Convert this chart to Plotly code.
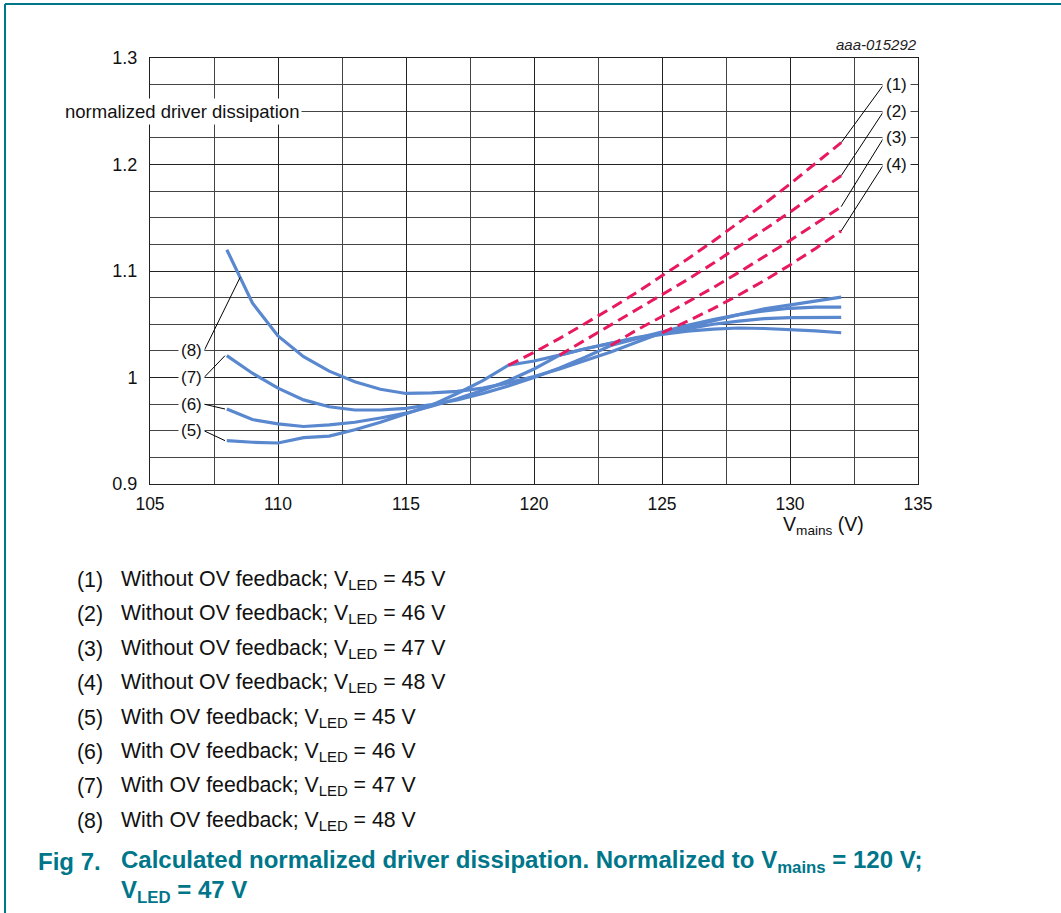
import plotly.graph_objects as go
import numpy as np

# ---------------- data ----------------
v_ov = [108, 109, 110, 111, 112, 113, 114, 115, 116, 117, 118, 119, 120,
        121, 122, 123, 124, 125, 126, 127, 128, 129, 130, 131, 132]

ov_45 = [0.9407, 0.9392, 0.9385, 0.9435, 0.9450, 0.951, 0.958, 0.966, 0.974, 0.985,
         0.997, 1.0115, 1.0155, 1.021, 1.027, 1.032, 1.037, 1.0405, 1.0435, 1.0455,
         1.0465, 1.046, 1.0452, 1.0438, 1.042]
ov_46 = [0.9704, 0.9605, 0.9565, 0.954, 0.9555, 0.958, 0.962, 0.9665, 0.973, 0.980,
         0.988, 0.997, 1.008, 1.021, 1.027, 1.0325, 1.0375, 1.0415, 1.046, 1.050,
         1.053, 1.0553, 1.0562, 1.0565, 1.0565]
ov_47 = [1.0205, 1.004, 0.990, 0.979, 0.9725, 0.9695, 0.9695, 0.971, 0.9745, 0.979,
         0.985, 0.992, 1.000, 1.009, 1.019, 1.030, 1.0365, 1.043, 1.049, 1.0545,
         1.059, 1.0625, 1.065, 1.066, 1.066]
ov_48 = [1.120, 1.070, 1.039, 1.0195, 1.006, 0.996, 0.989, 0.985, 0.9855, 0.987,
         0.990, 0.995, 1.001, 1.008, 1.016, 1.024, 1.033, 1.042, 1.0475, 1.0535,
         1.059, 1.0645, 1.068, 1.0718, 1.0755]

v_d1 = [119, 120, 121, 122, 123, 124, 125, 126, 127, 128, 129, 130, 131, 132]
d_45 = [1.0115, 1.0236, 1.0367, 1.0504, 1.0648, 1.0797, 1.0952, 1.1113, 1.1280,
        1.1453, 1.1632, 1.1817, 1.2008, 1.2205]
v_d2 = [121, 122, 123, 124, 125, 126, 127, 128, 129, 130, 131, 132]
d_46 = [1.021, 1.0352, 1.0488, 1.0628, 1.0772, 1.092, 1.1072, 1.1229, 1.1389,
        1.1553, 1.1722, 1.1895]
v_d3 = [123, 124, 125, 126, 127, 128, 129, 130, 131, 132]
d_47 = [1.030, 1.0444, 1.0573, 1.0706, 1.0844, 1.0987, 1.1134, 1.1286, 1.1443, 1.1604]
v_d4 = [125, 126, 127, 128, 129, 130, 131, 132]
d_48 = [1.042, 1.0529, 1.0647, 1.0775, 1.0911, 1.1057, 1.1212, 1.1376]

x_ticks = [105, 110, 115, 120, 125, 130, 135]
y_ticks = [0.9, 1.0, 1.1, 1.2, 1.3]
y_ticktext = ["0.9", "1", "1.1", "1.2", "1.3"]

legend_items = [
    ("(1)", "Without OV feedback; V<sub>LED</sub> = 45 V"),
    ("(2)", "Without OV feedback; V<sub>LED</sub> = 46 V"),
    ("(3)", "Without OV feedback; V<sub>LED</sub> = 47 V"),
    ("(4)", "Without OV feedback; V<sub>LED</sub> = 48 V"),
    ("(5)", "With OV feedback; V<sub>LED</sub> = 45 V"),
    ("(6)", "With OV feedback; V<sub>LED</sub> = 46 V"),
    ("(7)", "With OV feedback; V<sub>LED</sub> = 47 V"),
    ("(8)", "With OV feedback; V<sub>LED</sub> = 48 V"),
]

# ---------------- style ----------------
W, H = 1061, 913
L, R, T, B = 150, 918, 58, 484
FONT = "Liberation Sans, Arial, sans-serif"
BLUE = "#5A88CF"
RED = "#E8195E"
TEAL = "#00768A"
TXT = "#111"


def px(xp):
    return (xp - L) / (R - L)


def py(yp):
    return (B - yp) / (B - T)


fig = go.Figure()

for ys in [ov_45, ov_46, ov_47, ov_48]:
    fig.add_trace(go.Scatter(x=v_ov, y=ys, mode="lines",
                             line=dict(color=BLUE, width=3.2), hoverinfo="skip"))

for xs, ys in [(v_d1, d_45), (v_d2, d_46), (v_d3, d_47), (v_d4, d_48)]:
    fig.add_trace(go.Scatter(x=xs, y=ys, mode="lines",
                             line=dict(color=RED, width=3, dash="11px,6px"),
                             hoverinfo="skip"))

fig.update_layout(
    width=W, height=H,
    margin=dict(l=L, r=W - R, t=T, b=H - B),
    plot_bgcolor="white", paper_bgcolor="white",
    showlegend=False,
    font=dict(family=FONT, size=17, color=TXT),
    xaxis=dict(range=[105, 135], tickvals=x_ticks, showgrid=True,
               gridcolor="#222", gridwidth=1, zeroline=False,
               showline=True, linecolor="#222", linewidth=1, mirror=True,
               ticks="", ticklabelstandoff=4,
               tickfont=dict(size=17.5, family=FONT, color=TXT),
               minor=dict(dtick=2.5, showgrid=True, gridcolor="#444", gridwidth=1),
               fixedrange=True),
    yaxis=dict(range=[0.9, 1.3], tickvals=y_ticks, ticktext=y_ticktext,
               showgrid=True, gridcolor="#222", gridwidth=1, zeroline=False,
               showline=True, linecolor="#222", linewidth=1, mirror=True,
               ticks="", ticklabelstandoff=8,
               tickfont=dict(size=18, family=FONT, color=TXT),
               minor=dict(dtick=0.025, showgrid=True, gridcolor="#444", gridwidth=1),
               fixedrange=True),
)

# ---- leader lines & curve labels ----
right_y = [1.275, 1.25, 1.225, 1.2]
right_ends = [(v_d1[-1], d_45[-1]), (v_d2[-1], d_46[-1]),
              (v_d3[-1], d_47[-1]), (v_d4[-1], d_48[-1])]
for i, (yl, (xe, ye)) in enumerate(zip(right_y, right_ends)):
    fig.add_shape(type="line", xref="x", yref="y", x0=133.66, y0=yl, x1=xe, y1=ye,
                  line=dict(color="black", width=1))
    fig.add_annotation(x=134.15, y=yl, xref="x", yref="y", text=f"({i+1})",
                       showarrow=False, bgcolor="white", borderpad=3,
                       font=dict(size=17, family=FONT, color=TXT))

left_y = [0.95, 0.975, 1.0, 1.025]
curves = [ov_45, ov_46, ov_47, ov_48]
for i, (yl, cv) in enumerate(zip(left_y, curves)):
    if i == 3:
        xe = 108.52
        ye = float(np.interp(xe, v_ov, cv))
    else:
        xe = v_ov[0] - 0.07
        ye = cv[0]
    fig.add_shape(type="line", xref="x", yref="y", x0=107.11, y0=yl, x1=xe, y1=ye,
                  line=dict(color="black", width=1))
    fig.add_annotation(x=106.62, y=yl, xref="x", yref="y", text=f"({i+5})",
                       showarrow=False, bgcolor="white", borderpad=2,
                       font=dict(size=17, family=FONT, color=TXT))

# y-axis quantity label
fig.add_annotation(x=px(302), y=1.25, xref="paper", yref="y", xanchor="right",
                   text="normalized driver dissipation", showarrow=False,
                   bgcolor="white", borderpad=2,
                   font=dict(size=18.5, family=FONT, color=TXT))

# x-axis title
fig.add_annotation(x=px(781), y=py(525), xref="paper", yref="paper", xanchor="left",
                   yanchor="middle", text="V<sub>mains</sub> (V)", showarrow=False,
                   font=dict(size=19.5, family=FONT, color=TXT))

# figure code
fig.add_annotation(x=px(919), y=py(45), xref="paper", yref="paper", xanchor="right",
                   yanchor="middle", text="<i>aaa-015292</i>", showarrow=False,
                   font=dict(size=15, family=FONT, color="#222"))

# legend list
for k, (num, txt) in enumerate(legend_items):
    yc = 580 + k * 34.4
    fig.add_annotation(x=px(75), y=py(yc), xref="paper", yref="paper", xanchor="left",
                       yanchor="middle", text=num, showarrow=False,
                       font=dict(size=21.3, family=FONT, color=TXT))
    fig.add_annotation(x=px(119), y=py(yc), xref="paper", yref="paper", xanchor="left",
                       yanchor="middle", text=txt, showarrow=False,
                       font=dict(size=21.3, family=FONT, color=TXT))

# caption
fig.add_annotation(x=px(36), y=py(861), xref="paper", yref="paper", xanchor="left",
                   yanchor="middle", text="<b>Fig 7.</b>", showarrow=False,
                   font=dict(size=24, family=FONT, color=TEAL))
fig.add_annotation(x=px(119), y=py(861), xref="paper", yref="paper", xanchor="left",
                   yanchor="middle",
                   text="<b>Calculated normalized driver dissipation. Normalized to V<sub>mains</sub> = 120 V;</b>",
                   showarrow=False, font=dict(size=24, family=FONT, color=TEAL))
fig.add_annotation(x=px(119), y=py(891), xref="paper", yref="paper", xanchor="left",
                   yanchor="middle", text="<b>V<sub>LED</sub> = 47 V</b>",
                   showarrow=False, font=dict(size=24, family=FONT, color=TEAL))

# teal frame (top and left)
fig.add_shape(type="line", xref="paper", yref="paper", x0=px(5), y0=py(4),
              x1=px(1062), y1=py(4), line=dict(color=TEAL, width=2))
fig.add_shape(type="line", xref="paper", yref="paper", x0=px(5), y0=py(4),
              x1=px(5), y1=py(914), line=dict(color=TEAL, width=2))

fig.write_html("out.html", config={"displayModeBar": False},
               post_script="document.body.style.margin='0px';")
